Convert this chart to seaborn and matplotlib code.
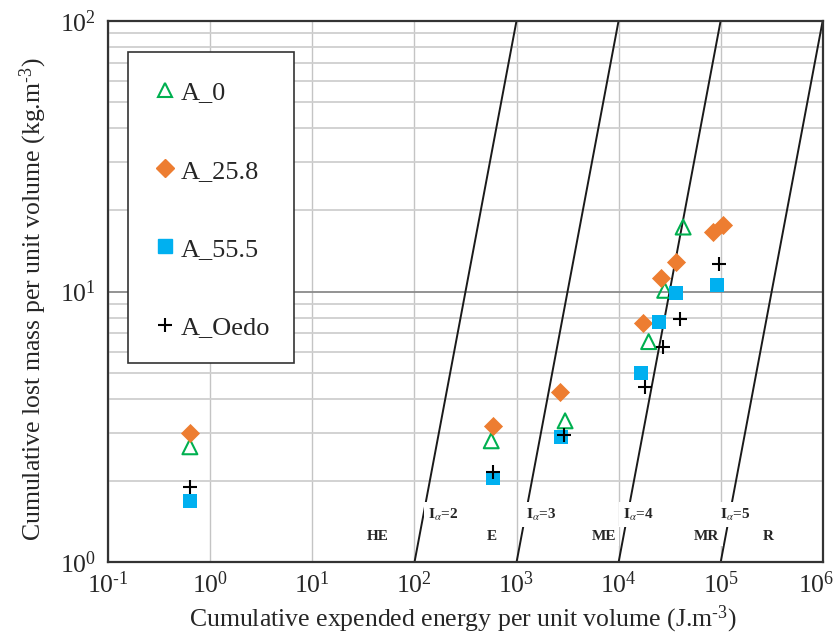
import numpy as np
import pandas as pd
import matplotlib
matplotlib.use("Agg")
import matplotlib.pyplot as plt
import seaborn as sns
from matplotlib.lines import Line2D
from matplotlib.patches import Rectangle
from matplotlib.ticker import LogLocator, NullFormatter, FuncFormatter
from matplotlib.transforms import ScaledTranslation, blended_transform_factory

# ---------------- data ----------------
a0_energy = [0.63, 565, 2990, 19700, 28300, 42900]
a0_mass = [2.67, 2.81, 3.33, 6.53, 10.1, 17.3]

a258_energy = [0.63, 592, 2655, 17400, 26300, 36900, 84500, 106000]
a258_mass = [2.99, 3.19, 4.24, 7.63, 11.2, 12.9, 16.6, 17.6]

a555_energy = [0.63, 590, 2735, 16700, 24700, 36900, 91200]
a555_mass = [1.68, 2.04, 2.89, 4.99, 7.7, 9.9, 10.6]

oedo_energy = [0.63, 590, 2910, 18300, 27300, 39700, 96900]
oedo_mass = [1.90, 2.15, 2.95, 4.45, 6.25, 7.91, 12.6]

series_names = ["A_0", "A_25.8", "A_55.5", "A_Oedo"]

x_tick_values = [1e-1, 1e0, 1e1, 1e2, 1e3, 1e4, 1e5, 1e6]
x_tick_exps = ["-1", "0", "1", "2", "3", "4", "5", "6"]

# erosion-resistance index lines I_alpha (endpoints)
iso_levels = [2, 3, 4, 5]
iso_x_start = [1e2, 1e3, 1e4, 1e5]
iso_x_end = [1e3, 1e4, 1e5, 1e6]
iso_y = [1, 100]

iso_label_x = [193, 1741, 15600, 137800]
iso_label_y = 1.50
region_names = ["HE", "E", "ME", "MR", "R"]
region_x = [43.3, 570, 7120, 72600, 293000]
region_y = 1.25

# ---------------- style ----------------
sns.set_theme(style="white")
plt.rcParams["font.family"] = ["Liberation Serif", "DejaVu Serif"]
plt.rcParams["mathtext.fontset"] = "stix"
plt.rcParams["axes.unicode_minus"] = False

fig = plt.figure(figsize=(8.34, 6.35), dpi=100)
ax = fig.add_axes([0.12986, 0.11449, 0.8566, 0.8529])
ax.set_xscale("log")
ax.set_yscale("log")
ax.set_xlim(1e-1, 1e6)
ax.set_ylim(1, 100)

# grid
ax.set_axisbelow(True)
ax.xaxis.set_major_locator(LogLocator(base=10, numticks=20))
ax.xaxis.set_minor_locator(LogLocator(base=10, subs=np.arange(2, 10), numticks=20))
ax.yaxis.set_major_locator(LogLocator(base=10, numticks=20))
ax.yaxis.set_minor_locator(LogLocator(base=10, subs=np.arange(2, 10), numticks=20))
ax.xaxis.set_minor_formatter(NullFormatter())
ax.yaxis.set_minor_formatter(NullFormatter())
ax.xaxis.set_major_formatter(NullFormatter())
pow_fmt = FuncFormatter(lambda v, p: r"$\mathdefault{10^{%d}}$" % int(round(np.log10(v))))
ax.yaxis.set_major_formatter(pow_fmt)
ax.grid(True, which="major", axis="x", color="#c4c4c4", lw=1.0, zorder=0)
ax.grid(True, which="major", axis="y", color="#8a8a8a", lw=1.3, zorder=0)
ax.grid(True, which="minor", axis="y", color="#cfcfcf", lw=1.3, zorder=0)

# x tick labels drawn at the tick positions (last one nudged inside the figure)
trans = blended_transform_factory(ax.transData, ax.transAxes)
for i, (xv, ex) in enumerate(zip(x_tick_values, x_tick_exps)):
    if ex.startswith("-"):
        lab = r"$\mathdefault{10^{\text{-}%s}}$" % ex[1:]
    else:
        lab = r"$\mathdefault{10^{%s}}$" % ex
    t = trans
    if i == len(x_tick_values) - 1:
        t = trans + ScaledTranslation(-7 / 100, 0, fig.dpi_scale_trans)
    ax.text(xv, -0.016, lab, transform=t, ha="center", va="top", fontsize=18.5,
            clip_on=False)

# iso lines
for lvl, xs, xe in zip(iso_levels, iso_x_start, iso_x_end):
    df = pd.DataFrame({"x": [xs, xe], "y": iso_y})
    sns.lineplot(data=df, x="x", y="y", ax=ax, color="#1a1a1a", lw=1.4,
                 sort=False, estimator=None, zorder=2)

# labels with white boxes that break the lines
for lvl, lx in zip(iso_levels, iso_label_x):
    ax.text(lx, iso_label_y, r"$\mathbf{I}_{\alpha}$=" + str(lvl), fontsize=11,
            fontweight="bold", ha="center", va="center", zorder=3,
            bbox=dict(facecolor="white", edgecolor="none", pad=3.0))
for name, rx in zip(region_names, region_x):
    ax.text(rx, region_y, name, fontsize=11, fontweight="bold", ha="center",
            va="center", zorder=3,
            bbox=dict(facecolor="white", edgecolor="none", pad=2.5))

# data
green, orange, blue = "#00B050", "#ED7D31", "#00B0F0"
sns.scatterplot(x=a0_energy, y=a0_mass, ax=ax, marker="^", s=115,
                facecolor="none", edgecolor=green, linewidth=1.5, zorder=5)
sns.scatterplot(x=a258_energy, y=a258_mass, ax=ax, marker="D", s=95,
                color=orange, edgecolor=orange, linewidth=0, zorder=5)
sns.scatterplot(x=a555_energy, y=a555_mass, ax=ax, marker="s", s=105,
                color=blue, edgecolor=blue, linewidth=0, zorder=5)
sns.scatterplot(x=oedo_energy, y=oedo_mass, ax=ax, marker="+", s=110,
                color="black", linewidth=1.5, zorder=6)

# spines and ticks
for sp in ax.spines.values():
    sp.set_visible(True)
    sp.set_color("#333333")
    sp.set_linewidth(1.6)
ax.tick_params(axis="x", which="major", direction="out", length=4, width=1.2,
               color="#333333", labelsize=18.5, pad=4)
ax.tick_params(axis="x", which="minor", direction="out", length=3, width=1.0,
               color="#333333")
ax.tick_params(axis="y", which="both", direction="out", length=5, width=1.2,
               color="#333333", labelsize=18.5, pad=4)
ax.tick_params(axis="y", which="minor", length=5)

ax.set_xlabel(r"Cumulative expended energy per unit volume (J.m$\mathdefault{^{\text{-}3}}$)",
              fontsize=18.5)
ax.set_ylabel(r"Cumulative lost mass per unit volume (kg.m$\mathdefault{^{\text{-}3}}$)",
              fontsize=18.5)
ax.xaxis.set_label_coords(0.496, -0.077)
ax.yaxis.set_label_coords(-0.0836, 0.485)

# legend box
rect = Rectangle((128 / 834, 1 - 363.3 / 635), (293.7 - 128) / 834,
                 (363.3 - 52.3) / 635, transform=fig.transFigure,
                 facecolor="white", edgecolor="#333333", lw=1.2, zorder=7)
fig.patches.append(rect)

handles = [
    Line2D([], [], marker="^", ls="none", markersize=10.5, markerfacecolor="none",
           markeredgecolor=green, markeredgewidth=1.5),
    Line2D([], [], marker="D", ls="none", markersize=9, color=orange),
    Line2D([], [], marker="s", ls="none", markersize=10, color=blue),
    Line2D([], [], marker="+", ls="none", markersize=10.5, color="black",
           markeredgewidth=1.5),
]
leg = fig.legend(handles, series_names, loc="upper left",
                 bbox_to_anchor=(152 / 834, 1 - 81 / 635), frameon=False,
                 fontsize=19, labelspacing=2.07, handlelength=1.0,
                 handletextpad=0.1, borderpad=0, borderaxespad=0)
leg.set_zorder(8)

fig.savefig("out.png", dpi=100)
